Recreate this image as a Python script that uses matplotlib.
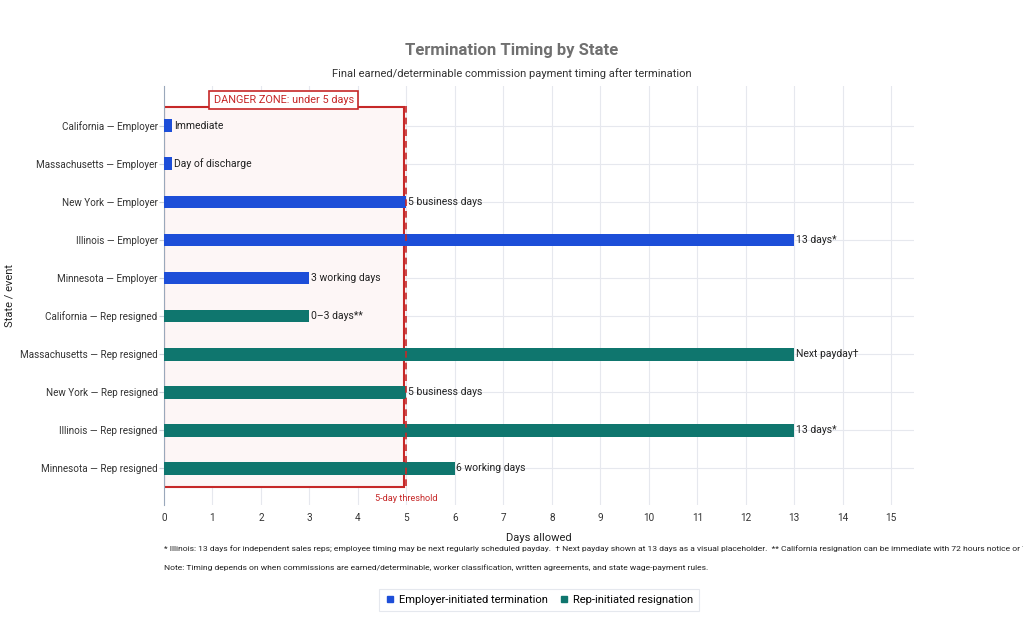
import numpy as np
import matplotlib.pyplot as plt
from matplotlib.patches import Rectangle
from matplotlib.lines import Line2D

plt.rcParams['font.family'] = ['Roboto', 'DejaVu Sans']

labels = ['California — Employer', 'Massachusetts — Employer', 'New York — Employer',
          'Illinois — Employer', 'Minnesota — Employer', 'California — Rep resigned',
          'Massachusetts — Rep resigned', 'New York — Rep resigned',
          'Illinois — Rep resigned', 'Minnesota — Rep resigned']
days = [0.17, 0.17, 5, 13, 3, 3, 13, 5, 13, 6]
bar_text = ['Immediate', 'Day of discharge', '5 business days', '13 days*', '3 working days',
            '0–3 days**', 'Next payday†', '5 business days', '13 days*', '6 working days']
kind = ['emp'] * 5 + ['rep'] * 5

blue = '#1d4ed8'
teal = '#0f766e'
red = '#c62828'
colors = [blue if k == 'emp' else teal for k in kind]

fig = plt.figure(figsize=(10.23, 6.25), dpi=100)
ax = fig.add_axes([0.1603, 0.192, 0.7332, 0.6704])

y = np.arange(len(labels))

# danger zone
ax.add_patch(Rectangle((0, -0.5), 4.95, 10, facecolor='#fdf6f6', edgecolor=red,
                       linewidth=1.5, zorder=1))
ax.text(2.47, -0.55, 'DANGER ZONE: under 5 days', ha='center', va='bottom', fontsize=7.8,
        color=red, zorder=5,
        bbox=dict(boxstyle='square,pad=0.4', facecolor='white', edgecolor=red, linewidth=1.2))

ax.barh(y, days, height=0.34, color=colors, zorder=3)
for yi, d, t in zip(y, days, bar_text):
    ax.text(d + 0.03, yi, t, va='center', ha='left', fontsize=7.5, color='#222222', zorder=4)

ax.axvline(5, ymin=0.045, ymax=0.955, color=red, linestyle=(0, (4, 3)), linewidth=1.2, zorder=4)
ax.text(5, 9.79, '5-day threshold', ha='center', va='center', fontsize=6.6, color=red)

ax.set_xlim(0, 15.47)
ax.set_ylim(9.97, -1.05)
ax.set_xticks(range(0, 16))
ax.set_yticks(y)
ax.set_yticklabels(labels)
ax.tick_params(axis='y', length=3.5, color='#c8ced8', labelsize=7.1, labelcolor='#333333', pad=1)
ax.tick_params(axis='x', length=0, labelsize=7.2, labelcolor='#333333', pad=6)
ax.grid(True, color='#e6e8ee', linewidth=0.8, zorder=0)
ax.set_axisbelow(True)
for s in ['top', 'right', 'bottom']:
    ax.spines[s].set_visible(False)
ax.spines['left'].set_color('#9aa8bb')
ax.spines['left'].set_linewidth(0.8)

ax.set_xlabel('Days allowed', fontsize=8, color='#222222', labelpad=7)
ax.set_ylabel('State / event', fontsize=8, color='#222222')
ax.yaxis.set_label_coords(-0.199, 0.5)

fig.text(512 / 1023, 1 - 50 / 625, 'Termination Timing by State', ha='center', va='center',
         fontsize=12, fontweight='bold', color='#707070')
fig.text(512 / 1023, 1 - 74 / 625,
         'Final earned/determinable commission payment timing after termination',
         ha='center', va='center', fontsize=8, color='#333333')

fig.text(164 / 1023, 1 - 549 / 625,
         '* Illinois: 13 days for independent sales reps; employee timing may be next regularly '
         'scheduled payday.  † Next payday shown at 13 days as a visual placeholder.  '
         '** California resignation can be immediate with 72 hours notice or 72 hours after quitting.',
         ha='left', va='center', fontsize=6.1, color='#222222')
fig.text(164 / 1023, 1 - 568 / 625,
         'Note: Timing depends on when commissions are earned/determinable, worker classification, '
         'written agreements, and state wage-payment rules.',
         ha='left', va='center', fontsize=6.1, color='#222222')

handles = [Line2D([], [], marker='s', linestyle='', color=blue, markersize=5),
           Line2D([], [], marker='s', linestyle='', color=teal, markersize=5)]
leg = fig.legend(handles, ['Employer-initiated termination', 'Rep-initiated resignation'],
                 loc='center', bbox_to_anchor=(539 / 1023, 1 - 600 / 625), ncol=2,
                 fontsize=8, frameon=True, fancybox=False, handletextpad=0.3,
                 columnspacing=1.0, handlelength=1.0, borderpad=0.5)
leg.get_frame().set_edgecolor('#dfe3ea')
leg.get_frame().set_linewidth(0.8)

fig.savefig('out.png', dpi=100)
